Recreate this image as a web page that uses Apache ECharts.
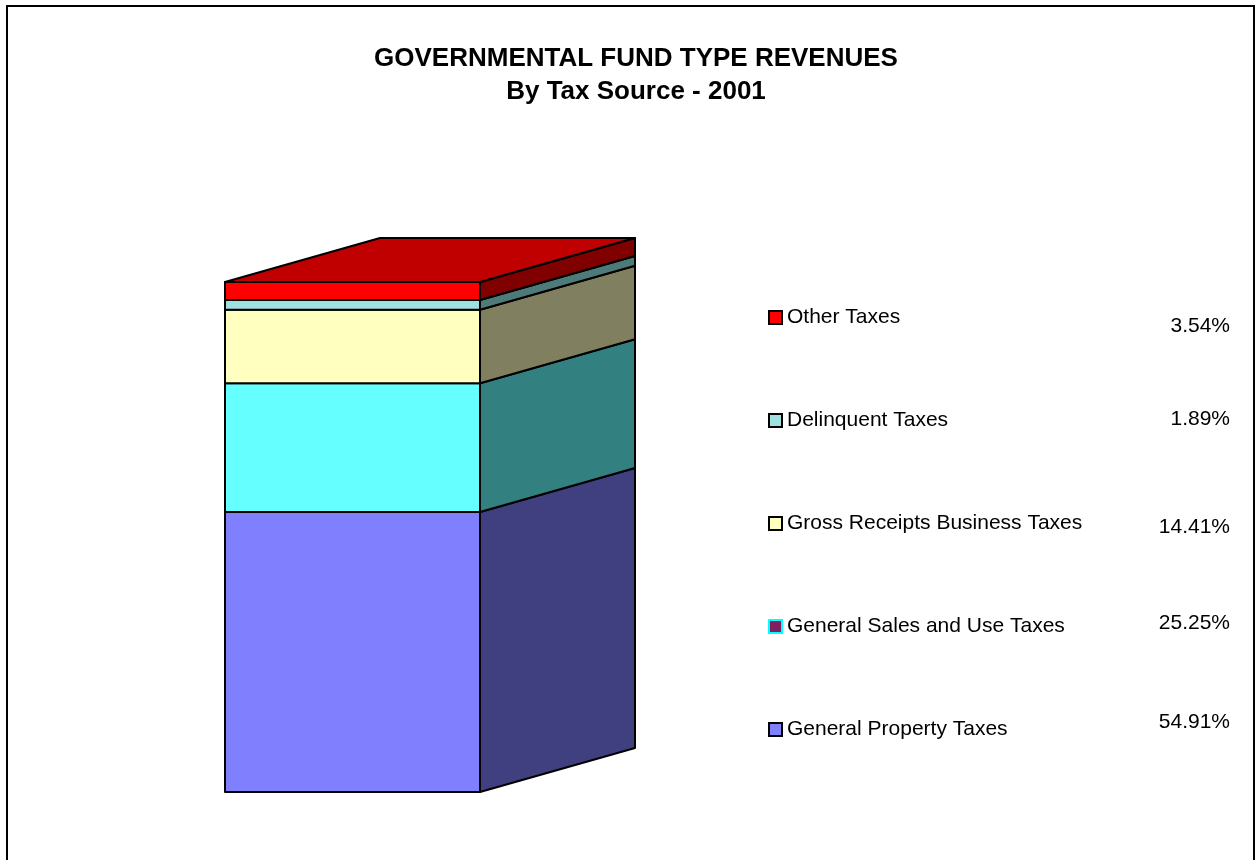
<!DOCTYPE html>
<html>
<head>
<meta charset="utf-8">
<title>Governmental Fund Type Revenues 2001</title>
<script src="https://cdn.jsdelivr.net/npm/echarts@6/dist/echarts.min.js"></script>
<style>
  html, body { margin: 0; padding: 0; background: #ffffff; }
  #chart { width: 1256px; height: 860px; }
</style>
</head>
<body>
<div id="chart"></div>
<script>
// Revenue sources, stacked bottom to top
const categories = [
  'General Property Taxes',
  'General Sales and Use Taxes',
  'Gross Receipts Business Taxes',
  'Delinquent Taxes',
  'Other Taxes'
];
// Share of total revenue, percent
const shares = [54.91, 25.25, 14.41, 1.89, 3.54];

// Face colours for each block
const frontColors = ['#8080FF', '#66FFFF', '#FFFFC0', '#A0E0E0', '#FF0000'];
const sideColors  = ['#404080', '#338080', '#808060', '#4F7A7A', '#800000'];
const topColor = '#C00000';
// Legend swatches (fill, outline)
const swatchFill   = ['#8080FF', '#7F1F5F', '#FFFFC0', '#A0E0E0', '#FF0000'];
const swatchBorder = ['#000000', '#00FFFF', '#000000', '#000000', '#000000'];

// Oblique projection of the block's depth, in pixels
const DEPTH_X = 155;
const DEPTH_Y = 44;

const FONT = '"Liberation Sans", Arial, sans-serif';

const total = shares.reduce((a, b) => a + b, 0);
const bases = [];
shares.reduce((acc, v, i) => { bases[i] = acc; return acc + v; }, 0);

function renderSegment(params, api) {
  const lo = api.value(1);
  const hi = api.value(2);
  const pLo = api.coord([0, lo]);
  const pHi = api.coord([0, hi]);
  const w = api.size([1, 0])[0];
  const x0 = pLo[0] - w / 2;
  const x1 = x0 + w;
  const yLo = pLo[1];
  const yHi = pHi[1];
  const idx = params.seriesIndex;
  const line = { stroke: '#000000', lineWidth: 2, lineJoin: 'round' };
  const children = [
    {
      type: 'polygon',
      shape: { points: [[x1, yHi], [x1 + DEPTH_X, yHi - DEPTH_Y], [x1 + DEPTH_X, yLo - DEPTH_Y], [x1, yLo]] },
      style: Object.assign({ fill: sideColors[idx] }, line)
    },
    {
      type: 'rect',
      shape: { x: x0, y: yHi, width: w, height: yLo - yHi },
      style: Object.assign({ fill: frontColors[idx] }, line)
    }
  ];
  if (Math.abs(hi - total) < 1e-9) {
    children.push({
      type: 'polygon',
      shape: { points: [[x0, yHi], [x0 + DEPTH_X, yHi - DEPTH_Y], [x1 + DEPTH_X, yHi - DEPTH_Y], [x1, yHi]] },
      style: Object.assign({ fill: topColor }, line)
    });
  }
  return { type: 'group', children: children };
}

const series = categories.map((name, i) => ({
  name: name,
  type: 'custom',
  renderItem: renderSegment,
  clip: false,
  silent: true,
  encode: { x: 0, y: [1, 2] },
  itemStyle: { color: swatchFill[i] },
  data: [[0, bases[i], bases[i] + shares[i]]]
}));

// Legend lists the top block first
const legendOrder = categories.map((_, i) => i).reverse();
const LEGEND_TOP = 314;
const LEGEND_STEP = 103;
const pctNudge = [10, 0, 5, -2, -6];

const pctTexts = legendOrder.map((i, k) => ({
  type: 'text',
  right: 26,
  top: LEGEND_TOP + k * LEGEND_STEP + pctNudge[k] - 8,
  style: {
    text: shares[i].toFixed(2) + '%',
    font: '21px ' + FONT,
    fill: '#000000'
  }
}));

const chart = echarts.init(document.getElementById('chart'), null, { renderer: 'canvas' });
chart.setOption({
  backgroundColor: '#ffffff',
  animation: false,
  title: {
    text: 'GOVERNMENTAL FUND TYPE REVENUES\nBy Tax Source - 2001',
    left: 631,
    top: 37,
    textAlign: 'center',
    textStyle: {
      fontFamily: FONT,
      fontSize: 26,
      fontWeight: 'bold',
      color: '#000000',
      lineHeight: 33
    }
  },
  grid: { left: 225, right: 776, top: 282, bottom: 68 },
  xAxis: { type: 'category', data: ['2001'], show: false, boundaryGap: true },
  yAxis: { type: 'value', min: 0, max: 100, show: false },
  legend: {
    orient: 'vertical',
    left: 763,
    top: LEGEND_TOP - 12,
    itemGap: 82,
    itemWidth: 13,
    itemHeight: 13,
    icon: 'rect',
    selectedMode: false,
    textStyle: {
      fontFamily: FONT,
      fontSize: 21,
      lineHeight: 21,
      color: '#000000'
    },
    data: legendOrder.map(i => ({
      name: categories[i],
      itemStyle: { color: swatchFill[i], borderColor: swatchBorder[i], borderWidth: 2 }
    }))
  },
  graphic: [
    {
      type: 'rect',
      shape: { x: 7, y: 6, width: 1247, height: 900 },
      style: { fill: 'none', stroke: '#000000', lineWidth: 2 },
      silent: true
    }
  ].concat(pctTexts),
  series: series
});
</script>
</body>
</html>
